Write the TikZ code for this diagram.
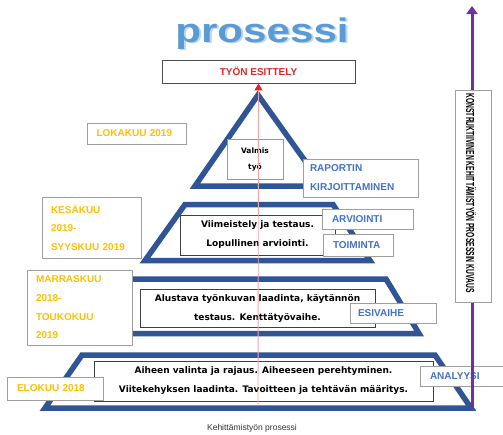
\documentclass[tikz,border=0pt]{standalone}
\usepackage{fontspec}
\setmainfont{Liberation Sans}
\newfontfamily\panelfont{DejaVu Sans}
\usetikzlibrary{arrows.meta}
\definecolor{pyrblue}{HTML}{2F5597}
\definecolor{dateyellow}{HTML}{FFC000}
\definecolor{phaseblue}{HTML}{4472C4}
\definecolor{titleblue}{HTML}{5B9BD5}
\definecolor{titleshade}{HTML}{BDD7EE}
\definecolor{axispurple}{HTML}{7030A0}
\definecolor{guidepink}{HTML}{F2A7A7}
\definecolor{tipred}{HTML}{E0262B}
\newcommand{\titleword}[1]{%
  \makebox[0pt][l]{\hspace{1.6pt}\raisebox{-1.6pt}{\textcolor{titleshade}{#1}}}%
  \textcolor{titleblue}{#1}}
\tikzset{
  tier/.style={draw=pyrblue, line width=5.5pt, line join=miter},
  panel/.style={draw=black!75, fill=white, line width=0.8pt, inner sep=0pt,
    font=\panelfont\bfseries\fontsize{9}{19}\selectfont, align=center},
  tag/.style={draw=gray!75, fill=white, line width=0.8pt, inner sep=0pt},
  datetxt/.style={tag, text=dateyellow, align=left,
    font=\bfseries\fontsize{10}{18.7}\selectfont},
  phasetxt/.style={tag, text=phaseblue, align=left,
    font=\bfseries\fontsize{10}{19}\selectfont},
}
\begin{document}
\begin{tikzpicture}[x=1pt,y=-1pt]
\useasboundingbox (0,0) rectangle (503,434);
\fill[white] (0,0) rectangle (503,434);

% title
\node[anchor=base, inner sep=0pt, font=\bfseries\fontsize{34}{34}\selectfont] (title) at (262,42)
  {\scalebox{1.24}[1]{\titleword{prosessi}}};

% presentation box at the top
\node[tag, draw=black!70, minimum width=193pt, minimum height=23pt, text=tipred,
  font=\bfseries\fontsize{10}{12}\selectfont] (esittely) at (258.5,71.5) {TYÖN ESITTELY};

% pyramid tiers
\draw[tier] (258,95) -- (323,186) -- (195,186) -- cycle;
\draw[tier] (185,204.5) -- (333,204.5) -- (370,260.5) -- (145,260.5) -- cycle;
\draw[tier] (130,279) -- (386,279) -- (419,333.5) -- (97,333.5) -- cycle;
\draw[tier] (82,355) -- (435,355) -- (471,408) -- (45,408) -- cycle;

% tier contents
\node[panel, draw=gray!80, minimum width=56pt, minimum height=40pt,
  font=\panelfont\bfseries\fontsize{7.5}{16}\selectfont] (valmis) at (255,159) {Valmis\\työ};
\node[panel, minimum width=155pt, minimum height=40pt] (viimeistely) at (257.5,235)
  {Viimeistely ja testaus.\\Lopullinen arviointi.};
\node[panel, minimum width=235pt, minimum height=38pt] (alustava) at (257.5,308)
  {Alustava työnkuvan laadinta, käytännön\\testaus. Kenttätyövaihe.};
\node[panel, minimum width=339pt, minimum height=40pt] (aiheen) at (263.5,381)
  {Aiheen valinta ja rajaus. Aiheeseen perehtyminen.\\Viitekehyksen laadinta. Tavoitteen ja tehtävän määritys.};

% dates
\node[datetxt, minimum width=99pt, minimum height=21pt, text width=80pt] (lokakuu) at (136.5,133.5) {LOKAKUU 2019};
\node[datetxt, minimum width=99pt, minimum height=61pt, text width=81pt] (kesakuu) at (91.5,227.5) {KESÄKUU\\2019-\\SYYSKUU 2019};
\node[datetxt, minimum width=105pt, minimum height=75pt, text width=87pt] (marraskuu) at (79.5,307.5) {MARRASKUU\\2018-\\TOUKOKUU\\2019};
\node[datetxt, minimum width=96pt, minimum height=23pt, text width=76pt] (elokuu) at (55,388.5) {ELOKUU 2018};

% phases
\node[phasetxt, minimum width=115pt, minimum height=38pt, text width=101pt] (raportin) at (360.5,178) {RAPORTIN\\KIRJOITTAMINEN};
\node[phasetxt, minimum width=91pt, minimum height=20pt, text width=71pt] (arviointi) at (367.5,219) {ARVIOINTI};
\node[phasetxt, minimum width=70pt, minimum height=22pt, text width=50pt] (toiminta) at (358,245) {TOIMINTA};
\node[phasetxt, minimum width=86pt, minimum height=20pt, text width=70pt] (esivaihe) at (393,313) {ESIVAIHE};
\node[phasetxt, minimum width=83pt, minimum height=20pt, text width=63pt] (analyysi) at (461.5,376) {ANALYYSI};

% centre guide towards the presentation
\coordinate (guidefoot) at (258,405);
\draw[guidepink, line width=0.9pt, -{Triangle[length=7pt,width=8pt,color=tipred]}]
  (guidefoot) -- (esittely.south);

% process axis
\coordinate (axisfoot) at (472,409);
\coordinate (axistop) at (472,6);
\draw[axispurple, line width=3pt, -{Triangle[length=8pt,width=11pt]}] (axisfoot) -- (axistop);
\node[tag, minimum width=36pt, minimum height=212pt] (kuvausbox) at (473,196) {};
\node[rotate=-90, inner sep=0pt] (kuvaus) at (471,193)
  {\resizebox{199pt}{10pt}{\bfseries KONSTRUKTIIVINEN KEHITTÄMISTYÖN PROSESSIN KUVAUS}};

% caption
\node[text=black!80, font=\fontsize{8.5}{10}\selectfont] (caption) at (252,428) {Kehittämistyön prosessi};
\end{tikzpicture}
\end{document}
